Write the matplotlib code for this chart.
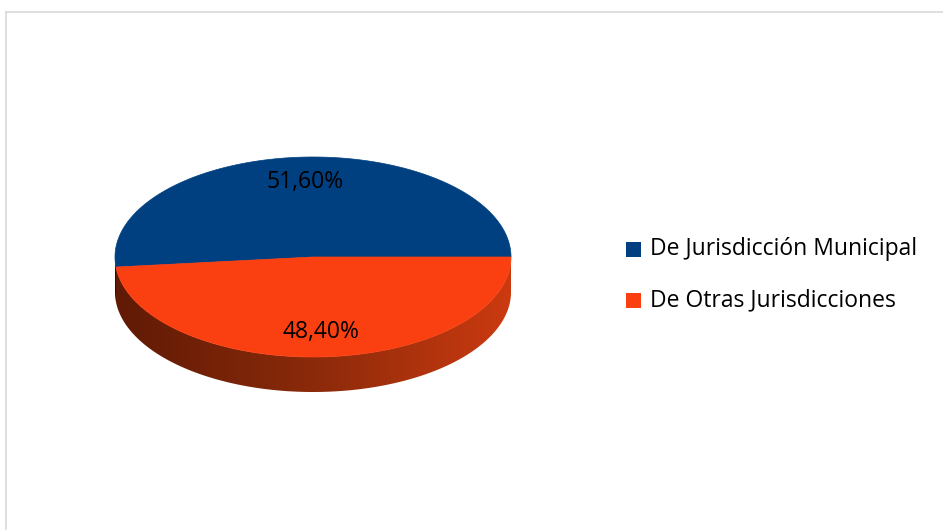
import numpy as np
import matplotlib
matplotlib.use("Agg")
import matplotlib.pyplot as plt
from matplotlib.patches import Polygon, Rectangle
from matplotlib.colors import LinearSegmentedColormap

categories = ["De Jurisdicción Municipal", "De Otras Jurisdicciones"]
values = [51.6, 48.4]
labels = ["51,60%", "48,40%"]
top_colors = ["#004080", "#FA4010"]
side_dark = ["#001a38", "#601a05"]
side_mid = ["#002550", "#8a2a0a"]
side_light = ["#003060", "#cc3a10"]

plt.rcParams['font.family'] = ['Open Sans', 'DejaVu Sans']

W, H = 943, 530
fig = plt.figure(figsize=(W / 100, H / 100), dpi=100)
ax = fig.add_axes([0, 0, 1, 1])
ax.set_xlim(0, W)
ax.set_ylim(H, 0)
ax.axis('off')

# chart border (partially cropped)
ax.plot([5.5, W], [11.5, 11.5], color="#d9d9d9", lw=1.2)
ax.plot([5.5, 5.5], [11.5, H], color="#d9d9d9", lw=1.2)

cx, cy, rx, ry, depth = 313, 257, 198, 100, 35

def pt(t, dy=0.0):
    r = np.deg2rad(t)
    return cx + rx * np.cos(r), cy - ry * np.sin(r) + dy

total = sum(values)
bounds = np.concatenate([[0], np.cumsum(values) / total * 360])

# side walls (front half, 180..360 deg) with horizontal gradient
grad = np.linspace(0, 1, 512).reshape(1, -1)
for i in range(len(values)):
    a0, a1 = bounds[i], bounds[i + 1]
    s0, s1 = max(a0, 180), min(a1, 360)
    if s1 <= s0:
        continue
    ts = np.linspace(s0, s1, 400)
    top = [pt(t) for t in ts]
    bot = [pt(t, depth) for t in ts[::-1]]
    poly = Polygon(top + bot, closed=True, facecolor='none', edgecolor='none')
    ax.add_patch(poly)
    cmap = LinearSegmentedColormap.from_list(
        f"side{i}", [side_dark[i], side_mid[i], side_light[i]])
    im = ax.imshow(grad, cmap=cmap, aspect='auto',
                   extent=(cx - rx, cx + rx, cy + depth + ry + 2, cy - 2),
                   interpolation='bilinear', zorder=1)
    im.set_clip_path(poly)

# top faces
for i in range(len(values)):
    a0, a1 = bounds[i], bounds[i + 1]
    ts = np.linspace(a0, a1, 300)
    pts = [(cx, cy)] + [pt(t) for t in ts]
    ax.add_patch(Polygon(pts, closed=True, facecolor=top_colors[i],
                         edgecolor=top_colors[i], lw=0.5, zorder=2))

# data labels
for i in range(len(values)):
    mid = (bounds[i] + bounds[i + 1]) / 2
    r = np.deg2rad(mid)
    x = cx + 0.75 * rx * np.cos(r)
    y = cy - 0.75 * ry * np.sin(r)
    ax.text(x, y, labels[i], ha='center', va='center', fontsize=16.5,
            color='#000000', zorder=3)

# legend
lx, ly0, gap, sq = 626, 249, 51, 15
for i, cat in enumerate(categories):
    y = ly0 + i * gap
    ax.add_patch(Rectangle((lx, y - sq / 2), sq, sq, facecolor=top_colors[i],
                           edgecolor='none', zorder=3))
    ax.text(lx + 24, y, cat, ha='left', va='center', fontsize=16.5,
            color='#000000', zorder=3)

fig.savefig("out.png", dpi=100)
